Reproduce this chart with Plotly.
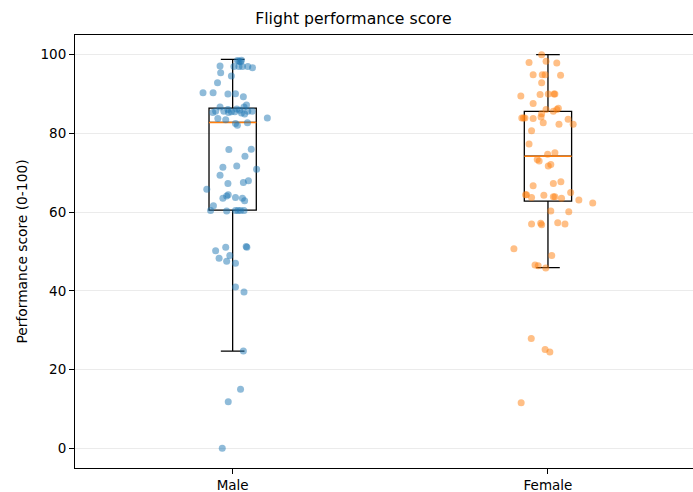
import plotly.graph_objects as go

categories = ["Male", "Female"]
positions = [1, 2]

male_scores = [98.5, 98.6, 98.3, 98.2,
               97.1, 97.0, 97.0, 97.0, 97.0, 96.7,
               95.4, 94.6, 92.9,
               90.3, 90.3, 90.0, 90.1, 89.3,
               86.7, 86.1, 85.5, 85.5, 85.9, 86.7, 87.2, 85.6, 85.6, 85.6, 85.6, 85.3, 86.2, 85.2, 85.3, 84.9,
               83.9, 83.8, 83.5,
               82.5, 82.1, 82.7,
               75.9, 76.0, 74.2, 71.4, 71.7, 70.9, 69.4, 67.3, 67.5, 68.0, 65.8,
               63.5, 64.1, 64.4, 63.7, 63.5, 62.9, 61.6, 60.4, 60.3, 60.4, 60.4, 60.4, 60.4,
               50.2, 51.1, 51.3, 51.1, 48.3, 49.0, 47.5, 47.0, 41.0, 39.7,
               24.7, 15.0, 11.8, 0.0]
male_jitter = [0.015, 0.028, 0.020, 0.025,
               -0.040, 0.004, 0.020, 0.031, 0.048, 0.063,
               -0.038, -0.004, -0.048,
               -0.094, -0.062, -0.015, 0.009, 0.034,
               -0.040, -0.015, -0.004, 0.007, 0.022, 0.036, 0.044, 0.048, 0.062, -0.028, -0.054, -0.063, 0.013, 0.028, -0.013, 0.038,
               0.110, -0.047, -0.022,
               0.009, 0.015, 0.047,
               -0.012, 0.059, 0.039, -0.031, 0.013, 0.076, -0.040, -0.015, 0.034, 0.050, -0.082,
               -0.031, -0.019, -0.014, 0.009, 0.031, 0.038, -0.061, -0.070, -0.019, 0.009, 0.017, 0.025, 0.036,
               -0.054, -0.022, 0.043, 0.045, -0.043, -0.009, -0.019, 0.009, 0.009, 0.036,
               0.034, 0.025, -0.014, -0.033]

female_scores = [100.0, 98.0, 98.3, 97.9,
                 94.9, 94.9, 94.9, 94.8,
                 92.9,
                 89.5, 89.9, 90.0, 90.0, 90.0,
                 87.6,
                 86.1, 86.1, 85.0, 85.6, 86.4,
                 83.9, 83.9, 83.9, 83.8, 84.2,
                 82.7, 82.3, 83.6, 82.3,
                 80.7,
                 77.3,
                 73.4, 73.0, 74.7, 75.1, 72.1, 71.7,
                 66.7, 67.3, 67.7,
                 64.4, 64.4, 63.7, 64.3, 63.9, 63.9, 63.5, 65.0, 63.1, 62.3,
                 60.3, 60.1,
                 57.0, 57.2, 56.8, 57.3, 57.0,
                 50.7, 49.0, 46.6, 46.4, 45.8,
                 27.9, 25.1, 24.5, 11.6]
female_jitter = [-0.020, -0.060, -0.006, 0.028,
                 -0.047, -0.018, -0.009, 0.040,
                 -0.020,
                 -0.086, -0.025, 0.001, 0.022, 0.019,
                 -0.047,
                 -0.006, 0.028, -0.020, 0.017, 0.033,
                 -0.083, -0.078, -0.073, -0.047, -0.022,
                 -0.015, 0.035, 0.064, 0.080,
                 -0.052,
                 -0.060,
                 -0.034, -0.028, -0.001, 0.022, 0.009, 0.001,
                 -0.047, 0.017, 0.041,
                 -0.071, -0.068, -0.052, -0.013, 0.017, 0.022, 0.043, 0.072, 0.098, 0.142,
                 0.009, 0.066,
                 -0.052, -0.023, -0.020, 0.031, 0.054,
                 -0.108, 0.012, -0.041, -0.031, -0.007,
                 -0.053, -0.009, 0.006, -0.085]

# box statistics
q1 = [60.5, 62.8]
median = [82.8, 74.2]
q3 = [86.4, 85.6]
lower_whisker = [24.7, 45.9]
upper_whisker = [98.8, 100.0]

colors = ["#1f77b4", "#ff7f0e"]
box_width = 0.15

fig = go.Figure()

for i, pos in enumerate(positions):
    fig.add_trace(go.Box(
        x=[pos], q1=[q1[i]], median=[median[i]], q3=[q3[i]],
        lowerfence=[lower_whisker[i]], upperfence=[upper_whisker[i]],
        width=box_width, whiskerwidth=0.5,
        line=dict(color="black", width=1.3),
        fillcolor="rgba(0,0,0,0)", boxpoints=False,
        showlegend=False, hoverinfo="skip"))
    fig.add_trace(go.Scatter(
        x=[pos - box_width / 2, pos + box_width / 2], y=[median[i], median[i]],
        mode="lines", line=dict(color="#ff7f0e", width=1.5),
        showlegend=False, hoverinfo="skip"))

groups = [(male_scores, male_jitter), (female_scores, female_jitter)]
for i, (scores, jit) in enumerate(groups):
    fig.add_trace(go.Scatter(
        x=[positions[i] + j for j in jit], y=scores, mode="markers",
        marker=dict(color=colors[i], size=7, opacity=0.5, line=dict(width=0)),
        showlegend=False))

fig.update_layout(
    width=693, height=492,
    margin=dict(l=75, r=0, t=35, b=24),
    paper_bgcolor="white", plot_bgcolor="white",
    font=dict(family="DejaVu Sans", color="black", size=13),
    title=dict(text="Flight performance score", x=0.51, xanchor="center",
               y=1 - 19 / 492, yanchor="middle", font=dict(size=15.7)),
)
fig.update_xaxes(
    range=[0.5, 2.46], tickvals=positions, ticktext=categories,
    tickfont=dict(size=13.5),
    showline=True, linecolor="black", linewidth=1, mirror=True,
    ticks="outside", ticklen=5, tickcolor="black",
    showgrid=False, zeroline=False, automargin=False)
fig.update_yaxes(
    range=[-5, 105], tickvals=[0, 20, 40, 60, 80, 100],
    tickfont=dict(size=13.5),
    title=dict(text="Performance score (0-100)", standoff=9, font=dict(size=13.8)),
    showline=True, linecolor="black", linewidth=1,
    ticks="outside", ticklen=5, tickcolor="black",
    showgrid=True, gridcolor="#ebebeb", gridwidth=1, zeroline=False,
    automargin=False)

fig.write_html("out.html", config={"displayModeBar": False},
               post_script="document.body.style.margin='0';")
